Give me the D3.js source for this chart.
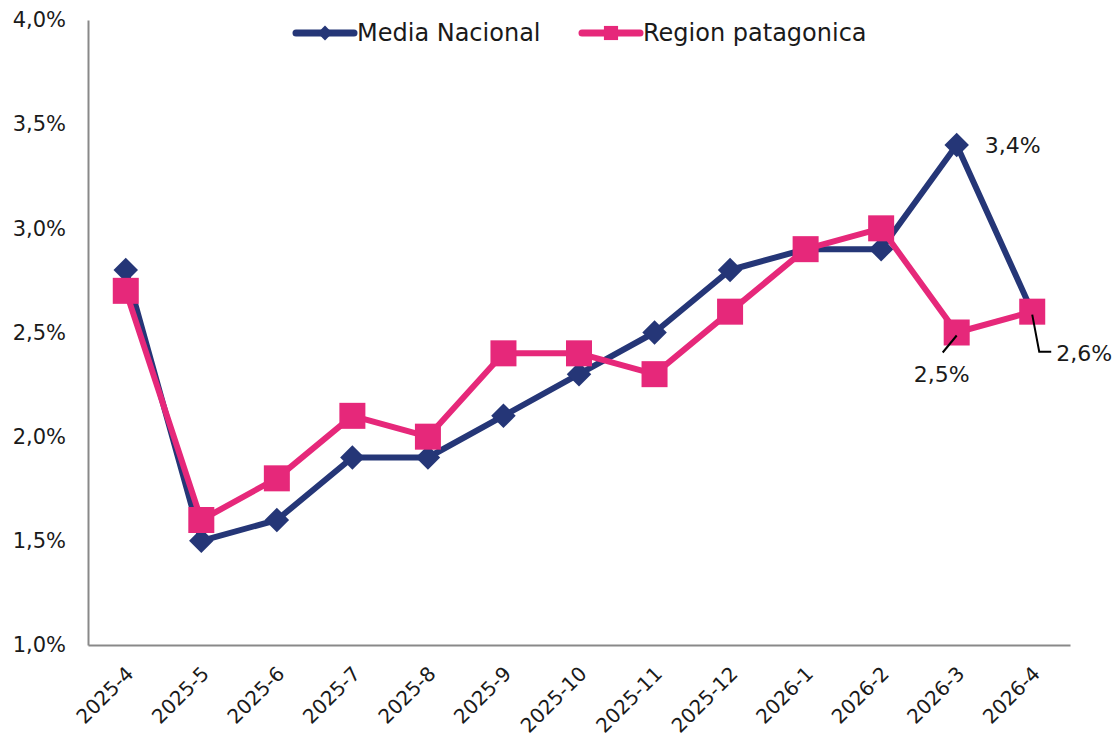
<!DOCTYPE html>
<html>
<head>
  <script src="https://d3js.org/d3.v7.min.js"></script>
  <style>
    body { margin: 0; background: #fff; }
    text { font-family: "DejaVu Sans", "Noto Sans", sans-serif; fill: #1a1a1a; }
  </style>
</head>
<body>
  <div id="chart"></div>
  <script>
    // data
    var months = ['2025-4','2025-5','2025-6','2025-7','2025-8','2025-9','2025-10','2025-11','2025-12','2026-1','2026-2','2026-3','2026-4'];
    var mediaNacional = [2.8, 1.5, 1.6, 1.9, 1.9, 2.1, 2.3, 2.5, 2.8, 2.9, 2.9, 3.4, 2.6];
    var regionPatagonica = [2.7, 1.6, 1.8, 2.1, 2.0, 2.4, 2.4, 2.3, 2.6, 2.9, 3.0, 2.5, 2.6];
    var yTicks = [1.0, 1.5, 2.0, 2.5, 3.0, 3.5, 4.0];

    var width = 1118, height = 740;
    var margin = { top: 20, right: 48, bottom: 95, left: 88 };

    var svg = d3.select('#chart').append('svg')
      .attr('width', width)
      .attr('height', height);

    var x = d3.scaleBand()
      .domain(months)
      .range([margin.left, width - margin.right]);

    var y = d3.scaleLinear()
      .domain([1, 4])
      .range([height - margin.bottom, margin.top]);

    var fmt = function(v) { return v.toFixed(1).replace('.', ',') + '%'; };
    var cx = function(d, i) { return x(months[i]) + x.bandwidth() / 2; };

    // axes
    var yAxis = svg.append('g')
      .attr('transform', 'translate(' + margin.left + ',0)')
      .call(d3.axisLeft(y).tickValues(yTicks).tickSize(0).tickPadding(22).tickFormat(fmt));
    yAxis.select('.domain').attr('stroke', '#898989').attr('stroke-width', 2);
    yAxis.selectAll('text').style('font-size', '21px').attr('fill', '#1a1a1a');

    var xAxis = svg.append('g')
      .attr('transform', 'translate(0,' + (height - margin.bottom) + ')')
      .call(d3.axisBottom(x).tickSize(0).tickPadding(0));
    xAxis.select('.domain').attr('stroke', '#898989').attr('stroke-width', 2);
    xAxis.selectAll('text')
      .style('font-size', '20px')
      .attr('fill', '#1a1a1a')
      .attr('text-anchor', 'end')
      .attr('dy', '0')
      .attr('transform', 'translate(9,30) rotate(-45)');

    var line = d3.line()
      .x(cx)
      .y(function(d) { return y(d); });

    var navy = '#253677', pink = '#E6287A';

    // Media Nacional
    svg.append('path')
      .datum(mediaNacional)
      .attr('d', line)
      .attr('fill', 'none')
      .attr('stroke', navy)
      .attr('stroke-width', 6)
      .attr('stroke-linejoin', 'round');

    var diamond = d3.symbol().type(d3.symbolSquare).size(300);
    svg.selectAll('.mn')
      .data(mediaNacional)
      .enter()
      .append('path')
      .attr('class', 'mn')
      .attr('d', diamond)
      .attr('fill', navy)
      .attr('transform', function(d, i) { return 'translate(' + cx(d, i) + ',' + y(d) + ') rotate(45)'; });

    // Region patagonica
    svg.append('path')
      .datum(regionPatagonica)
      .attr('d', line)
      .attr('fill', 'none')
      .attr('stroke', pink)
      .attr('stroke-width', 6)
      .attr('stroke-linejoin', 'round');

    svg.selectAll('.rp')
      .data(regionPatagonica)
      .enter()
      .append('rect')
      .attr('class', 'rp')
      .attr('x', function(d, i) { return cx(d, i) - 13; })
      .attr('y', function(d) { return y(d) - 13; })
      .attr('width', 26)
      .attr('height', 26)
      .attr('fill', pink);

    // data labels for the last months
    var n = months.length;
    svg.append('text')
      .attr('x', cx(0, n - 2) + 28)
      .attr('y', y(mediaNacional[n - 2]) + 8)
      .style('font-size', '22px')
      .text(fmt(mediaNacional[n - 2]));

    var p1 = [cx(0, n - 2), y(regionPatagonica[n - 2])];
    svg.append('path')
      .attr('d', 'M' + (p1[0]) + ',' + (p1[1] + 3) + 'L' + (p1[0] - 14) + ',' + (p1[1] + 20))
      .attr('stroke', '#000').attr('stroke-width', 2).attr('fill', 'none');
    svg.append('text')
      .attr('x', p1[0] - 15)
      .attr('y', p1[1] + 49)
      .attr('text-anchor', 'middle')
      .style('font-size', '22px')
      .text(fmt(regionPatagonica[n - 2]));

    var p2 = [cx(0, n - 1), y(regionPatagonica[n - 1])];
    svg.append('path')
      .attr('d', 'M' + (p2[0]) + ',' + (p2[1] + 3) + 'L' + (p2[0] + 7) + ',' + (p2[1] + 40) + 'L' + (p2[0] + 19) + ',' + (p2[1] + 40))
      .attr('stroke', '#000').attr('stroke-width', 2).attr('fill', 'none');
    svg.append('text')
      .attr('x', p2[0] + 24)
      .attr('y', p2[1] + 49)
      .style('font-size', '22px')
      .text(fmt(regionPatagonica[n - 1]));

    // legend
    var legend = [
      { name: 'Media Nacional', color: navy, x: 296, marker: 'diamond' },
      { name: 'Region patagonica', color: pink, x: 582, marker: 'square' }
    ];
    var lg = svg.selectAll('.legend')
      .data(legend)
      .enter()
      .append('g')
      .attr('class', 'legend')
      .attr('transform', function(d) { return 'translate(' + d.x + ',33)'; });
    lg.append('line')
      .attr('x1', 0).attr('x2', 58)
      .attr('stroke', function(d) { return d.color; })
      .attr('stroke-width', 7)
      .attr('stroke-linecap', 'round');
    lg.append('path')
      .attr('d', function(d) {
        return d.marker === 'diamond'
          ? d3.symbol().type(d3.symbolSquare).size(110)()
          : d3.symbol().type(d3.symbolSquare).size(200)();
      })
      .attr('transform', function(d) { return 'translate(29,0)' + (d.marker === 'diamond' ? ' rotate(45)' : ''); })
      .attr('fill', function(d) { return d.color; });
    lg.append('text')
      .attr('x', 61)
      .attr('y', 8)
      .style('font-size', '24px')
      .text(function(d) { return d.name; });
  </script>
</body>
</html>
